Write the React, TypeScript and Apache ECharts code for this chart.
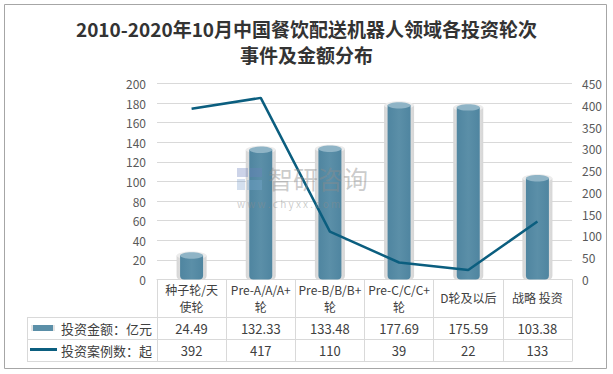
import React, { useEffect, useRef } from "react";
import * as echarts from "echarts";

const categories = ["种子轮/天\n使轮", "Pre-A/A/A+\n轮", "Pre-B/B/B+\n轮", "Pre-C/C/C+\n轮", "D轮及以后", "战略 投资"];
const amounts = [24.49, 132.33, 133.48, 177.69, 175.59, 103.38];
const counts = [392, 417, 110, 39, 22, 133];
const amountName = "投资金额：亿元";
const countName = "投资案例数：起";
const titleText = "2010-2020年10月中国餐饮配送机器人领域各投资轮次\n事件及金额分布";

const FONT = "'Microsoft YaHei', 'Noto Sans CJK SC', 'Noto Sans', sans-serif";
const BAR = "#5b8fa8";
const LINE = "#0b5e7f";
const GRIDC = "#d9d9d9";
const TXT = "#404040";

export default function App() {
  const ref = useRef<HTMLDivElement>(null);
  useEffect(() => {
    if (!ref.current) return;
    const chart = echarts.init(ref.current, null, { renderer: "svg" });
    const renderBar = (params: any, api: any) => {
      const i = api.value(0);
      const v = api.value(1);
      const top = api.coord([i, v]);
      const bot = api.coord([i, 0]);
      const cx = top[0];
      const h = bot[1] - top[1];
      return {
        type: "group",
        children: [
          {
            type: "rect",
            shape: { x: cx - 15, y: top[1], width: 30, height: h, r: [0, 0, 4, 4] },
            style: {
              fill: new echarts.graphic.LinearGradient(0, 0, 1, 0, [
                { offset: 0, color: "#d6d6d6" },
                { offset: 0.5, color: "#f2f2f2" },
                { offset: 1, color: "#d6d6d6" },
              ]),
            },
          },
          { type: "ellipse", shape: { cx, cy: top[1], rx: 15, ry: 4 }, style: { fill: "#ececec" } },
          {
            type: "rect",
            shape: { x: cx - 11.5, y: top[1], width: 23, height: h, r: [0, 0, 4, 4] },
            style: {
              fill: new echarts.graphic.LinearGradient(0, 0, 1, 0, [
                { offset: 0, color: "#4f85a0" },
                { offset: 0.5, color: BAR },
                { offset: 1, color: "#4f85a0" },
              ]),
            },
          },
          { type: "ellipse", shape: { cx, cy: top[1], rx: 11.5, ry: 3.2 }, style: { fill: "#8fb4c6" } },
        ],
      };
    };

    const wm = "rgba(140,140,140,0.45)";
    chart.setOption({
      animation: false,
      textStyle: { fontFamily: FONT },
      title: {
        text: titleText,
        left: "center",
        top: 10,
        textStyle: { fontSize: 19, fontWeight: "bold", color: "#333333", lineHeight: 26, fontFamily: FONT },
      },
      grid: { left: 157, right: 41, top: 83.5, bottom: 94.5, containLabel: false },
      xAxis: [
        {
          type: "category",
          data: categories,
          position: "bottom",
          axisLine: { show: true, lineStyle: { color: GRIDC } },
          axisTick: { show: true, length: 82, lineStyle: { color: GRIDC } },
          axisLabel: { interval: 0, margin: 18, verticalAlign: "middle", fontSize: 12, lineHeight: 17, color: TXT },
        },
        {
          type: "category",
          data: categories,
          position: "bottom",
          axisLine: { show: false },
          axisTick: { show: false },
          axisLabel: {
            interval: 0,
            margin: 48.5,
            verticalAlign: "middle",
            fontSize: 13,
            color: TXT,
            formatter: (_v: string, i: number) => amounts[i].toFixed(2),
          },
        },
        {
          type: "category",
          data: categories,
          position: "bottom",
          axisLine: { show: false },
          axisTick: { show: false },
          axisLabel: {
            interval: 0,
            margin: 70.5,
            verticalAlign: "middle",
            fontSize: 13,
            color: TXT,
            formatter: (_v: string, i: number) => String(counts[i]),
          },
        },
      ],
      yAxis: [
        {
          type: "value",
          min: 0,
          max: 200,
          interval: 20,
          axisLine: { show: false },
          axisTick: { show: false },
          axisLabel: { margin: 11, fontSize: 12, color: "#595959" },
          splitLine: { lineStyle: { color: GRIDC } },
        },
        {
          type: "value",
          min: 0,
          max: 450,
          interval: 50,
          position: "right",
          axisLine: { show: false },
          axisTick: { show: false },
          axisLabel: { margin: 10, fontSize: 12, color: "#595959" },
          splitLine: { show: false },
        },
      ],
      series: [
        {
          name: amountName,
          type: "custom",
          xAxisIndex: 0,
          yAxisIndex: 0,
          renderItem: renderBar,
          encode: { x: 0, y: 1 },
          data: amounts.map((v, i) => [i, v]),
          z: 2,
        },
        {
          name: countName,
          type: "line",
          xAxisIndex: 0,
          yAxisIndex: 1,
          data: counts,
          symbol: "none",
          lineStyle: { color: LINE, width: 2.5 },
          itemStyle: { color: LINE },
          z: 3,
        },
      ],
      graphic: [
        {
          type: "rect",
          shape: { x: 4.5, y: 4.5, width: 602, height: 364 },
          style: { fill: "none", stroke: "#a6a6a6", lineWidth: 1 },
          silent: true,
        },
        { type: "line", shape: { x1: 27, y1: 317.5, x2: 572, y2: 317.5 }, style: { stroke: GRIDC, lineWidth: 1 } },
        { type: "line", shape: { x1: 27, y1: 339.5, x2: 572, y2: 339.5 }, style: { stroke: GRIDC, lineWidth: 1 } },
        { type: "line", shape: { x1: 27, y1: 361.5, x2: 572, y2: 361.5 }, style: { stroke: GRIDC, lineWidth: 1 } },
        { type: "line", shape: { x1: 27.5, y1: 317.5, x2: 27.5, y2: 361.5 }, style: { stroke: GRIDC, lineWidth: 1 } },
        { type: "rect", shape: { x: 31, y: 325, width: 24, height: 6 }, style: { fill: "#e4e4e4" } },
        { type: "rect", shape: { x: 33, y: 325, width: 20, height: 6 }, style: { fill: BAR } },
        { type: "line", shape: { x1: 30, y1: 349.5, x2: 57, y2: 349.5 }, style: { stroke: LINE, lineWidth: 3 } },
        {
          type: "text",
          x: 61,
          y: 328.5,
          style: { text: amountName, fontSize: 13, fill: TXT, verticalAlign: "middle", fontFamily: FONT },
        },
        {
          type: "text",
          x: 61,
          y: 350.5,
          style: { text: countName, fontSize: 13, fill: TXT, verticalAlign: "middle", fontFamily: FONT },
        },
        { type: "rect", z: 100, silent: true, shape: { x: 237, y: 168, width: 11, height: 9 }, style: { fill: "rgba(110,130,190,0.35)" } },
        { type: "rect", z: 100, silent: true, shape: { x: 250, y: 168, width: 12, height: 9 }, style: { fill: "rgba(110,130,190,0.35)" } },
        { type: "rect", z: 100, silent: true, shape: { x: 237, y: 179, width: 8, height: 11 }, style: { fill: "rgba(110,150,200,0.3)" } },
        { type: "rect", z: 100, silent: true, shape: { x: 247, y: 180, width: 15, height: 10 }, style: { fill: "rgba(120,170,210,0.35)" } },
        {
          type: "text",
          z: 100,
          silent: true,
          x: 268,
          y: 178,
          style: { text: "智研咨询", fontSize: 25, fill: wm, verticalAlign: "middle", fontFamily: FONT },
        },
        {
          type: "text",
          z: 100,
          silent: true,
          x: 237,
          y: 203,
          style: { text: "w w w . c h y x x . c o m", fontSize: 10, fill: wm, verticalAlign: "middle", fontFamily: FONT },
        },
      ],
    });
    return () => chart.dispose();
  }, []);
  return <div ref={ref} style={{ position: "absolute", left: 0, top: 0, width: 613, height: 374 }} />;
}
